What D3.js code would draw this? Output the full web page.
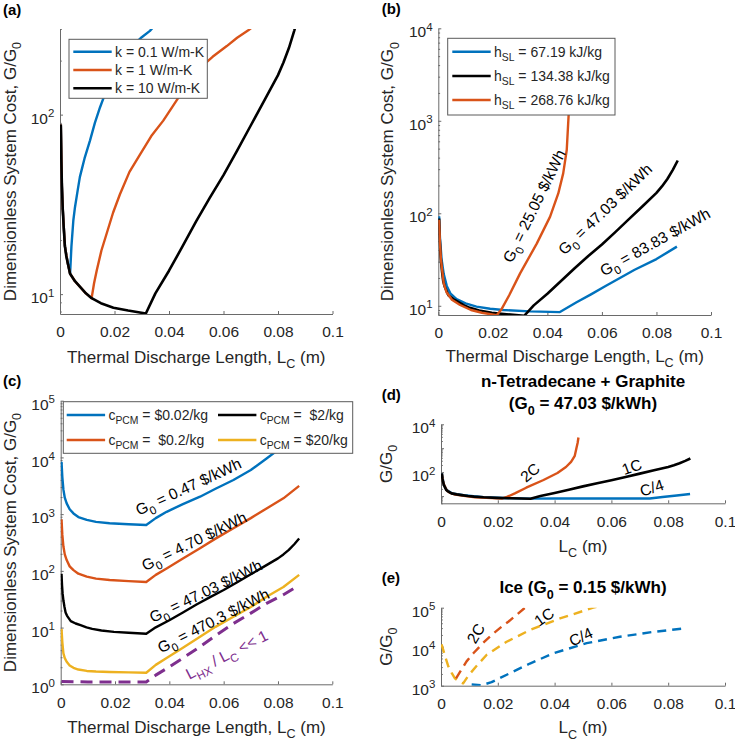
<!DOCTYPE html>
<html><head><meta charset="utf-8">
<script src="https://cdn.jsdelivr.net/npm/d3@7"></script>
<style>
body{margin:0;background:#fff;}
text{white-space:pre;}
</style></head><body>
<script>
// ---------------- DATA ----------------
const xTickValues = [0, 0.02, 0.04, 0.06, 0.08, 0.1];
const xTickLabels = ["0", "0.02", "0.04", "0.06", "0.08", "0.1"];

// Base curve: k = 10 W/m-K, hSL = 134.38 kJ/kg, cPCM = $2/kg, 1C (G0 = 47.03 $/kWh)
const lcBase = [0.0003,0.0005,0.0007,0.001,0.0014,0.0018,0.0023,0.0028,0.0037,0.0055,0.0073,0.0095,0.0116,0.015,0.0196,0.025,0.0315,0.035,0.04,0.045,0.05,0.055,0.06,0.065,0.07,0.075,0.08,0.082,0.084,0.086,0.0878];
const gBase  = [88,55,40,30,23,18.5,16.3,15,13,11.8,11,10.1,9.5,8.9,8.4,8.1,7.8,10.1,13.5,18.5,25.5,34.5,46,63,87,120,166,195,235,295,372];

// (a) k = 0.1 W/m-K
const lcK01 = [0.0003,0.0007,0.001,0.0018,0.0028,0.0037,0.0042,0.0049,0.0055,0.0065,0.0073,0.0082,0.009,0.011,0.0128,0.0147,0.0165,0.018,0.022,0.025,0.027,0.03,0.033,0.036];
const gK01  = [88,40,30,18.5,15,13,18.5,25.8,30.5,38,45,51,57,71.7,90,110,130,150,199,225,245,270,293,330];
// (a) k = 1 W/m-K
const lcK1 = [0.0003,0.0007,0.001,0.0018,0.0028,0.0037,0.0055,0.0073,0.0095,0.0116,0.0125,0.0135,0.0152,0.0171,0.0195,0.022,0.0255,0.0294,0.0335,0.0379,0.0428,0.047,0.0514,0.056,0.0612,0.065,0.0691,0.072];
const gK1  = [88,40,30,18.5,15,13,11.8,11,10.1,9.5,11.5,13.6,17.5,21.7,28.5,36,48,60,76,92.6,120,150,182,210,241,268,295,320];

// (b) hSL = 67.19 kJ/kg
const lcH67 = [0.0003,0.0006,0.0012,0.002,0.0031,0.0045,0.0067,0.01,0.014,0.019,0.0238,0.0336,0.0446,0.0507,0.056,0.0615,0.0666,0.072,0.08,0.0875];
const gH67  = [93,55,32,22,16.4,13.5,11.8,10.6,9.8,9.3,9.0,8.7,8.55,10.9,13.3,16.5,20,24.5,32,43.6];
// (b) hSL = 268.76 kJ/kg  (also 2C in panel d)
const lcH268 = [0.0003,0.0006,0.001,0.002,0.003,0.005,0.008,0.012,0.016,0.0214,0.0232,0.026,0.03,0.0361,0.041,0.044,0.0458,0.0471,0.0477,0.0481,0.0484];
const gH268  = [85,48,31,17.5,14,11.6,10.2,9.0,8.4,7.9,9.2,13,22.4,47,92,164,270,483,1030,1660,2800];

// (c) cPCM sweep
const lcC    = [0.0003,0.0006,0.001,0.0015,0.0022,0.0033,0.0047,0.0065,0.0096,0.013,0.018,0.025,0.0315,0.035,0.039,0.045,0.0513,0.057,0.0636,0.07,0.0758,0.082,0.0878];
const gC002  = [8400,4500,2700,1950,1550,1220,1030,890,790,730,690,665,645,850,1100,1500,2030,2800,4000,6000,9600,16000,30000];
const gC02   = [810,430,268,195,155,120,103,89,79,73,69,66,63.5,85,110,165,250,370,565,850,1260,1900,3150];
const gC20   = [9.5,5.5,3.5,2.9,2.5,2.15,1.95,1.82,1.72,1.68,1.65,1.62,1.6,2.2,2.9,4.4,6.9,10.3,15.5,23,35,52,85];
const lcHX   = [0.0003,0.01,0.02,0.0315,0.035,0.039,0.045,0.0513,0.057,0.0636,0.07,0.0758,0.082,0.0878];
const gHX    = [1.12,1.1,1.1,1.1,1.45,1.9,2.9,4.6,7.2,11.8,18,26.7,38,56];

// (d) C/4 for n-Tetradecane + Graphite
const lcQ = [0.0003,0.001,0.002,0.004,0.008,0.015,0.025,0.0315,0.04,0.05,0.06,0.07,0.0735,0.078,0.083,0.0877];
const gQ  = [88,30,18,12.8,10.8,8.9,8.1,7.85,7.95,7.95,7.95,7.95,7.95,9.2,10.6,12.2];

// (e) Ice
const lcIce1C = [0.0002,0.0015,0.0026,0.0038,0.0049,0.0065,0.0078,0.0096,0.0125,0.0161,0.0231,0.0313,0.0419,0.0536,0.056];
const gIce1C  = [11500,5500,3100,2100,1550,1250,1150,1800,3200,6200,13400,26700,53000,100000,110000];
const lcIce2C = [0.0053,0.009,0.0114,0.0149,0.0178,0.022,0.0237,0.0296,0.031];
const gIce2C  = [1550,4200,6800,12600,20000,35500,43600,100000,115000];
const lcIceQ  = [0.0108,0.0143,0.0178,0.0243,0.0313,0.0396,0.0513,0.063,0.0748,0.0859];
const gIceQ   = [1070,1030,1230,2100,3700,6800,12300,18000,24000,29500];

// ---------------- DRAWING ----------------
const FONT = "'Liberation Sans', Arial, Helvetica, sans-serif";
const COL = {blue:'#0072BD', orange:'#D95319', black:'#000000', yellow:'#EDB120', purple:'#7E2F8E'};
const AX = '#6a6a6a', TXT = '#262626';
const TICK_FS = 15.5, LAB_FS = 17, LEG_FS = 14, ANN_FS = 15.5;

const svg = d3.select('body').append('svg').attr('width',735).attr('height',743)
  .style('font-family',FONT).style('background','#fff');

const sub = s => ({s, k:'sub'});
const sup = s => ({s, k:'sup'});
function rich(t, parts, size){
  let cur = 0;
  parts.forEach(p => {
    const o = typeof p === 'string' ? {s:p, k:'n'} : p;
    const target = o.k==='sub' ? 0.32*size : o.k==='sup' ? -0.42*size : 0;
    t.append('tspan').attr('dy', target-cur).attr('font-size', o.k==='n' ? size : size*0.74).text(o.s);
    cur = target;
  });
  return t;
}

function makePanel(p){
  const x = d3.scaleLinear().domain([0,0.1]).range([p.x0,p.x1]);
  const y = d3.scaleLog().domain(p.yDom).range([p.yB,p.yT]);
  const g = svg.append('g');
  const id = 'clip-'+p.name;
  svg.append('defs').append('clipPath').attr('id',id).append('rect')
    .attr('x',p.x0).attr('y',p.yT).attr('width',p.x1-p.x0).attr('height',p.yB-p.yT);
  // x axis
  const xa = g.append('g').attr('transform',`translate(0,${p.yB})`)
    .call(d3.axisBottom(x).tickValues(xTickValues).tickFormat((d,i)=>xTickLabels[i])
      .tickSizeInner(-3).tickSizeOuter(0).tickPadding(12.3));
  xa.attr('font-size',null).attr('font-family',null);
  xa.select('.domain').attr('stroke',AX);
  xa.selectAll('.tick line').attr('stroke',AX);
  xa.selectAll('.tick text').attr('font-size',TICK_FS).attr('fill',TXT);
  // y minor ticks
  const [lo,hi] = p.yDom;
  const minors = [];
  for(let e=Math.floor(Math.log10(lo)); e<=Math.ceil(Math.log10(hi)); e++){
    for(let m=2;m<=9;m++){ const v=m*Math.pow(10,e); if(v>=lo && v<=hi) minors.push(v); }
  }
  const ym = g.append('g').attr('transform',`translate(${p.x0},0)`)
    .call(d3.axisLeft(y).tickValues(minors).tickFormat(()=>'').tickSizeInner(-1.8).tickSizeOuter(0));
  ym.select('.domain').remove();
  ym.selectAll('.tick line').attr('stroke',AX);
  // y major ticks
  const majors = [];
  for(let e=Math.ceil(Math.log10(lo)-1e-9); e<=Math.floor(Math.log10(hi)+1e-9); e++) majors.push(Math.pow(10,e));
  const ya = g.append('g').attr('transform',`translate(${p.x0},0)`)
    .call(d3.axisLeft(y).tickValues(majors).tickFormat(()=>'').tickSizeInner(-3).tickSizeOuter(0).tickPadding(5.7));
  ya.attr('font-size',null).attr('font-family',null);
  ya.select('.domain').attr('stroke',AX);
  ya.selectAll('.tick line').attr('stroke',AX);
  ya.selectAll('.tick text').each(function(d){
    const e = Math.round(Math.log10(d));
    const t = d3.select(this);
    if(!p.yLabeled.includes(e)) return;
    t.attr('dy',null).attr('y',8.6).attr('fill',TXT);
    rich(t, ['10', sup(String(e))], TICK_FS);
  });
  // series
  const plot = g.append('g').attr('clip-path',`url(#${id})`);
  const line = d3.line().x(d=>x(d[0])).y(d=>y(d[1]));
  p.series.forEach(s => {
    plot.append('path').datum(d3.zip(s.lc, s.g)).attr('d',line)
      .attr('fill','none').attr('stroke',s.color).attr('stroke-width',s.w||2.4)
      .attr('stroke-dasharray',s.dash||null).attr('stroke-linejoin','round');
  });
  // x label
  const cx = (p.x0+p.x1)/2;
  rich(g.append('text').attr('x',cx).attr('y',p.xlabY).attr('text-anchor','middle').attr('fill',TXT), p.xlab, LAB_FS);
  // y label
  rich(g.append('text').attr('transform',`translate(${p.ylabX},${(p.yT+p.yB)/2}) rotate(-90)`)
    .attr('text-anchor','middle').attr('fill',TXT), p.ylab, LAB_FS);
  return {x,y,g};
}

function legend(box, items){
  const g = svg.append('g');
  g.append('rect').attr('x',box.x).attr('y',box.y).attr('width',box.w).attr('height',box.h)
    .attr('fill','#fff').attr('stroke','#5a5a5a').attr('stroke-width',1);
  items.forEach(it => {
    g.append('line').attr('x1',it.lx).attr('x2',it.lx+38.4).attr('y1',it.ly).attr('y2',it.ly)
      .attr('stroke',it.color).attr('stroke-width',2.4);
    rich(g.append('text').attr('x',it.lx+41.7).attr('y',it.ly+5).attr('fill',TXT), it.text, LEG_FS);
  });
}

function ann(cx, cy, angle, parts, color, size, weight){
  const t = svg.append('text').attr('transform',`translate(${cx},${cy}) rotate(${angle})`)
    .attr('text-anchor','middle').attr('y', (size||ANN_FS)*0.36).attr('fill',color||'#000')
    .attr('font-weight',weight||null);
  rich(t, parts, size||ANN_FS);
}
function label(x, y, txt){
  svg.append('text').attr('x',x).attr('y',y).attr('font-weight','bold').attr('font-size',15).attr('fill','#000').text(txt);
}

const xlabLong = ['Thermal Discharge Length, L', sub('C'), ' (m)'];
const ylabLong = ['Dimensionless System Cost, G/G', sub('0')];

// ---- Panel (a)
makePanel({name:'a', x0:60, x1:332.5, yT:29, yB:314, yDom:[7.75,300], yLabeled:[1,2],
  xlab:xlabLong, xlabY:362.5, ylab:ylabLong, ylabX:15.8,
  series:[
    {lc:lcK01, g:gK01, color:COL.blue},
    {lc:lcK1, g:gK1, color:COL.orange},
    {lc:lcBase, g:gBase, color:COL.black, w:2.6}
  ]});
legend({x:69, y:39.3, w:138.3, h:59}, [
  {lx:73.3, ly:51.7, color:COL.blue, text:['k = 0.1 W/m-K']},
  {lx:73.3, ly:70, color:COL.orange, text:['k = 1 W/m-K']},
  {lx:73.3, ly:88.3, color:COL.black, text:['k = 10 W/m-K']}
]);
label(3, 15, '(a)');

// ---- Panel (b)
makePanel({name:'b', x0:438.3, x1:711, yT:28.3, yB:315, yDom:[7.95,1e4], yLabeled:[1,2,3,4],
  xlab:xlabLong, xlabY:361.7, ylab:ylabLong, ylabX:393.3,
  series:[
    {lc:lcH67, g:gH67, color:COL.blue},
    {lc:lcBase, g:gBase, color:COL.black, w:2.6},
    {lc:lcH268, g:gH268, color:COL.orange}
  ]});
legend({x:447.7, y:38.3, w:167.3, h:76.7}, [
  {lx:452.3, ly:51.7, color:COL.blue, text:['h', sub('SL'), ' = 67.19 kJ/kg']},
  {lx:452.3, ly:76, color:COL.black, text:['h', sub('SL'), ' = 134.38 kJ/kg']},
  {lx:452.3, ly:100, color:COL.orange, text:['h', sub('SL'), ' = 268.76 kJ/kg']}
]);
label(381.7, 13.5, '(b)');
ann(534, 206, -64, ['G', sub('0'), ' = 25.05 $/kWh']);
ann(605, 209, -44, ['G', sub('0'), ' = 47.03 $/kWh']);
ann(655, 241.7, -29, ['G', sub('0'), ' = 83.83 $/kWh']);

// ---- Panel (c)
makePanel({name:'c', x0:60.7, x1:332.3, yT:400.7, yB:684.3, yDom:[1,1e5], yLabeled:[0,1,2,3,4,5],
  xlab:xlabLong, xlabY:732.7, ylab:ylabLong, ylabX:15.5,
  series:[
    {lc:lcC, g:gC002, color:COL.blue},
    {lc:lcC, g:gC02, color:COL.orange},
    {lc:lcBase, g:gBase, color:COL.black},
    {lc:lcC, g:gC20, color:COL.yellow},
    {lc:lcHX, g:gHX, color:COL.purple, w:3, dash:'12,7'}
  ]});
legend({x:63.3, y:401.7, w:289.4, h:51.6}, [
  {lx:66.7, ly:415, color:COL.blue, text:['c', sub('PCM'), ' = $0.02/kg']},
  {lx:66.7, ly:440, color:COL.orange, text:['c', sub('PCM'), ' =  $0.2/kg']},
  {lx:218, ly:415, color:COL.black, text:['c', sub('PCM'), ' =  $2/kg']},
  {lx:218, ly:440, color:COL.yellow, text:['c', sub('PCM'), ' = $20/kg']}
]);
label(3, 386, '(c)');
ann(188.3, 486.5, -25, ['G', sub('0'), ' = 0.47 $/kWh']);
ann(194, 541, -26, ['G', sub('0'), ' = 4.70 $/kWh']);
ann(205.7, 591, -26, ['G', sub('0'), ' = 47.03 $/kWh']);
ann(213.3, 620.5, -27, ['G', sub('0'), ' = 470.3 $/kWh']);
ann(226.7, 654.5, -27, ['L', sub('HX'), ' / L', sub('C'), ' << 1'], COL.purple);

// ---- Panel (d)
makePanel({name:'d', x0:441, x1:725, yT:424.3, yB:503.3, yDom:[5,1e4], yLabeled:[2,4],
  xlab:['L', sub('C'), ' (m)'], xlabY:551.7, ylab:['G/G', sub('0')], ylabX:391.5,
  series:[
    {lc:lcQ, g:gQ, color:COL.blue},
    {lc:lcH268, g:gH268, color:COL.orange},
    {lc:lcBase, g:gBase, color:COL.black, w:2.6}
  ]});
label(381.7, 400, '(d)');
svg.append('text').attr('x',583).attr('y',387.3).attr('text-anchor','middle').attr('font-weight','bold')
  .attr('font-size',17).attr('fill','#000').text('n-Tetradecane + Graphite');
rich(svg.append('text').attr('x',583).attr('y',409.3).attr('text-anchor','middle').attr('font-weight','bold').attr('fill','#000'),
  ['(G', sub('0'), ' = 47.03 $/kWh)'], 17);
ann(530, 472.3, -40, ['2C']);
ann(631.7, 466.7, -20, ['1C']);
ann(651.7, 487.7, -18, ['C/4']);

// ---- Panel (e)
makePanel({name:'e', x0:441, x1:725, yT:607.7, yB:685.7, yDom:[1e3,1e5], yLabeled:[3,4,5],
  xlab:['L', sub('C'), ' (m)'], xlabY:733.3, ylab:['G/G', sub('0')], ylabX:391.5,
  series:[
    {lc:lcIceQ, g:gIceQ, color:COL.blue, dash:'9,6'},
    {lc:lcIce1C, g:gIce1C, color:COL.yellow, dash:'9,6'},
    {lc:lcIce2C, g:gIce2C, color:COL.orange, dash:'9,6'}
  ]});
label(381.7, 583, '(e)');
rich(svg.append('text').attr('x',583).attr('y',593.3).attr('text-anchor','middle').attr('font-weight','bold').attr('fill','#000'),
  ['Ice (G', sub('0'), ' = 0.15 $/kWh)'], 17);
ann(475.7, 633.3, -60, ['2C']);
ann(544, 616.7, -35, ['1C']);
ann(580.7, 636.7, -25, ['C/4']);
</script></body></html>
